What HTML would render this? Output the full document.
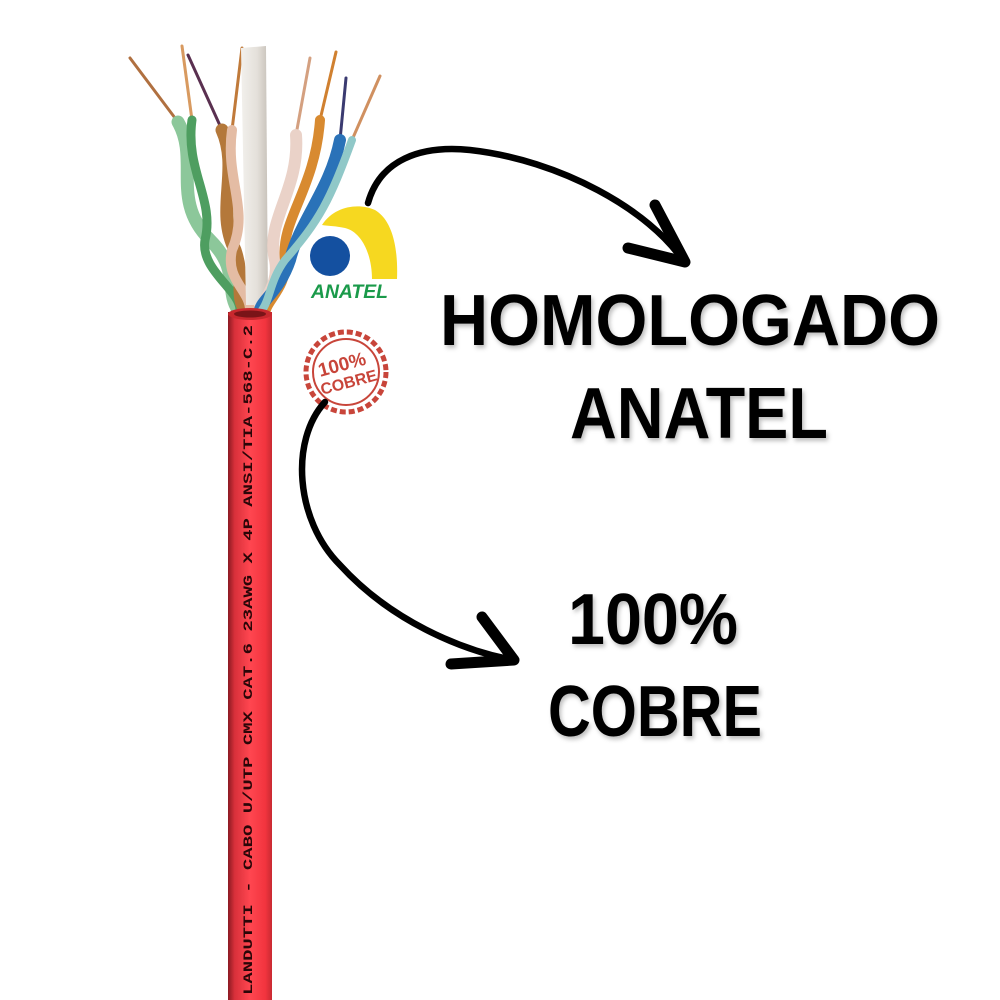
<!DOCTYPE html>
<html><head><meta charset="utf-8"><style>
html,body{margin:0;padding:0;background:#fff;}
svg{display:block}
.t{font-family:"Liberation Sans",sans-serif;font-weight:bold;fill:#000;}
</style></head><body>
<svg width="1000" height="1000" viewBox="0 0 1000 1000" xmlns="http://www.w3.org/2000/svg">
<defs>
<linearGradient id="cab" x1="0" x2="1" y1="0" y2="0">
<stop offset="0" stop-color="#8a1a22"/><stop offset="0.15" stop-color="#d8303a"/><stop offset="0.5" stop-color="#ff4650"/><stop offset="0.85" stop-color="#f2343e"/><stop offset="1" stop-color="#c82a32"/>
</linearGradient>
<linearGradient id="fil" x1="0" x2="1" y1="0" y2="0">
<stop offset="0" stop-color="#f2f0ec"/><stop offset="0.6" stop-color="#e4e0da"/><stop offset="1" stop-color="#c8c2ba"/>
</linearGradient>
<filter id="sh"><feDropShadow dx="2" dy="3" stdDeviation="2" flood-color="#000" flood-opacity="0.25"/></filter>
</defs>
<g fill="none" stroke-linecap="round">
<path d="M130 58 L178 122" stroke="#b07040" stroke-width="3"/>
<path d="M182 46 L192 120" stroke="#d89a60" stroke-width="3"/>
<path d="M188 55 L222 130" stroke="#5a3050" stroke-width="3"/>
<path d="M242 48 L232 130" stroke="#c07a3a" stroke-width="3"/>
<path d="M310 58 L296 135" stroke="#d4a080" stroke-width="3"/>
<path d="M336 52 L320 120" stroke="#d08030" stroke-width="3"/>
<path d="M346 78 L340 140" stroke="#3a3a70" stroke-width="3"/>
<path d="M380 76 L352 140" stroke="#d09060" stroke-width="3"/>
<path d="M178 122 C200 160,170 200,210 240 C240 270,225 290,238 310" stroke="#8cc79a" stroke-width="13"/>
<path d="M192 120 C185 170,215 200,205 240 C200 270,240 290,240 310" stroke="#4e9e60" stroke-width="9"/>
<path d="M222 130 C240 170,215 210,235 250 C245 280,235 295,245 310" stroke="#b4783a" stroke-width="13"/>
<path d="M232 130 C225 180,250 210,232 250 C225 280,250 290,250 310" stroke="#e4bca4" stroke-width="10"/>
<path d="M241 48 L266 46 L268 305 L246 305 Z" fill="url(#fil)"/>
<path d="M296 135 C300 190,265 220,275 260 C280 285,262 300,262 310" stroke="#ead2c8" stroke-width="12"/>
<path d="M320 120 C315 190,280 220,285 260 C288 285,268 300,266 310" stroke="#d88a30" stroke-width="10"/>
<path d="M340 140 C330 190,300 220,290 260 C280 290,262 300,260 310" stroke="#2a72b8" stroke-width="12"/>
<path d="M352 140 C330 200,320 220,285 260 C270 280,270 300,262 310" stroke="#90c8c8" stroke-width="8"/>
</g>
<rect x="228" y="312" width="44" height="700" fill="url(#cab)"/>
<ellipse cx="250" cy="314" rx="22" ry="6" fill="#c8282e"/>
<ellipse cx="250" cy="314" rx="16" ry="3.5" fill="#7a1418"/>
<text transform="translate(252,995) rotate(-90)" font-family="Liberation Mono,monospace" font-weight="bold" font-size="13" fill="#2a0608" textLength="670" lengthAdjust="spacingAndGlyphs">LANDUTTI - CABO U/UTP CMX CAT.6 23AWG X 4P ANSI/TIA-568-C.2</text>
<path d="M322 225 C335 205,360 203,375 210 C395 222,398 255,397 279 L372 279 C372 255,362 232,345 228 C336 226,328 226,322 225 Z" fill="#f6d820"/>
<circle cx="330" cy="256" r="20" fill="#1450a0"/>
<text x="311" y="298" font-family="Liberation Sans,sans-serif" font-weight="bold" font-style="italic" font-size="19" fill="#1a9a4a" textLength="77" lengthAdjust="spacingAndGlyphs">ANATEL</text>
<g transform="translate(346,372)">
<circle r="40" fill="none" stroke="#c8453a" stroke-width="5" stroke-dasharray="6 3"/>
<circle r="33" fill="#fff" stroke="#c8453a" stroke-width="2"/>
<text x="-2" y="-2" text-anchor="middle" transform="rotate(-15)" font-family="Liberation Sans,sans-serif" font-weight="bold" font-size="19" fill="#c8453a">100%</text>
<text x="0" y="16" text-anchor="middle" transform="rotate(-15)" font-family="Liberation Sans,sans-serif" font-weight="bold" font-size="16" fill="#c8453a">COBRE</text>
</g>
<g fill="none" stroke="#000" stroke-linecap="round" stroke-linejoin="round">
<path d="M368 203 C380 160,420 145,470 150 C560 160,650 210,684 262" stroke-width="6.5"/>
<path d="M655 205 L685 262 L628 248" stroke-width="11"/>
<path d="M325 402 C290 440,295 520,340 565 C390 620,460 650,513 660" stroke-width="6.5"/>
<path d="M482 617 L514 660 L451 664" stroke-width="11"/>
</g>
<g filter="url(#sh)">
<text class="t" x="690" y="345" text-anchor="middle" font-size="72" textLength="500" lengthAdjust="spacingAndGlyphs">HOMOLOGADO</text>
<text class="t" x="699" y="438" text-anchor="middle" font-size="72" textLength="258" lengthAdjust="spacingAndGlyphs">ANATEL</text>
<text class="t" x="653" y="644" text-anchor="middle" font-size="72" textLength="170" lengthAdjust="spacingAndGlyphs">100%</text>
<text class="t" x="655" y="736" text-anchor="middle" font-size="72" textLength="214" lengthAdjust="spacingAndGlyphs">COBRE</text>
</g>
</svg>
</body></html>
